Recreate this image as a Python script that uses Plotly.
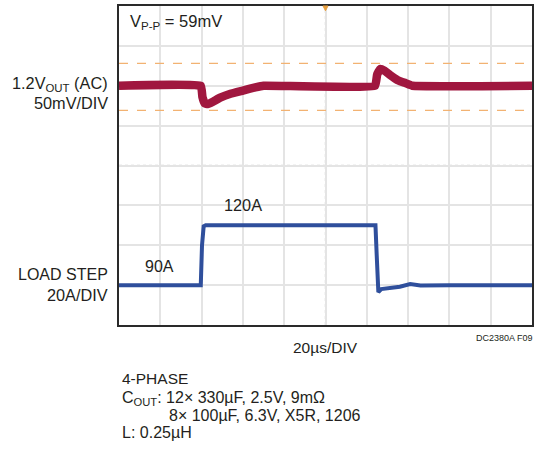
import plotly.graph_objects as go

# ---- data ----
# time axis in microseconds (20us/DIV, 10 divisions)
v_time = [0, 39.6, 40.4, 41.5, 43.0, 45.5, 49, 54, 60, 66, 70, 124.0, 125.0, 126.5, 128.5, 131, 135, 139, 142, 200]
# output voltage deviation (AC), mV
v_mv = [0, 0, -14, -22, -23, -20, -15, -10, -6, -2, 0, 0, 14, 21, 19, 14, 7, 3, 0, 0]

i_time = [0, 39.6, 40.2, 41.0, 42.0, 60, 80, 100, 124.2, 124.8, 125.6, 127, 131, 136, 141, 146, 160, 200]
# load step current, A
i_amp = [90, 90, 110, 119.5, 120, 120, 119.8, 120, 120, 105, 86.5, 88, 88.6, 89.2, 90.5, 89.8, 90, 90]

cursor_mv = [28, -31]          # Vp-p cursors (59mV)
x_ticks = [0, 20, 40, 60, 80, 100, 120, 140, 160, 180, 200]

FONT = "Liberation Sans, Arial, sans-serif"
RED = "#a0173f"
BLUE = "#2f4f9c"

fig = go.Figure()

# cursor lines
for c in cursor_mv:
    fig.add_trace(go.Scatter(x=[x_ticks[0], x_ticks[-1]], y=[c, c], yaxis="y2", mode="lines",
                             line=dict(color="#f2b272", width=1.3, dash="dash"),
                             hoverinfo="skip", showlegend=False))

fig.add_trace(go.Scatter(x=v_time, y=v_mv, yaxis="y2", mode="lines",
                         line=dict(color=RED, width=8.5, shape="spline", smoothing=0.3),
                         showlegend=False))
fig.add_trace(go.Scatter(x=i_time, y=i_amp, yaxis="y", mode="lines",
                         line=dict(color=BLUE, width=4),
                         showlegend=False))

L, R, T, B = 119, 534, 6, 325
W, H = 535, 455


def px(x):
    return (x - L) / (R - L)


def py(y):
    return (B - y) / (B - T)


ann = []


def add(text, x, y, size, xanchor="left", align="left"):
    ann.append(dict(text=text, x=px(x), y=py(y), xref="paper", yref="paper",
                    xanchor=xanchor, yanchor="middle", showarrow=False, align=align,
                    font=dict(family=FONT, size=size, color="#231f20")))


add("V<sub>P-P</sub> = 59mV", 128, 22, 16.5)
add("1.2V<sub>OUT</sub> (AC)", 110, 84, 16.3, xanchor="right")
add("50mV/DIV", 110, 103, 16.3, xanchor="right")
add("LOAD STEP", 110, 274, 16, xanchor="right")
add("20A/DIV", 110, 295, 16.3, xanchor="right")
add("90A", 143, 266, 16)
add("120A", 222, 205, 16.3)
add("20µs/DIV", 292, 347, 15.5)
add("DC2380A F09", 537, 338, 9, xanchor="right")
add("4-PHASE", 120, 378, 15.5)
add("C<sub>OUT</sub>: 12× 330µF, 2.5V, 9mΩ", 120, 398, 16)
add("8× 100µF, 6.3V, X5R, 1206", 167, 415, 16)
add("L: 0.25µH", 120, 432, 16)

shapes = [
    # center dotted cross lines
    dict(type="line", xref="x", yref="paper", x0=100, x1=100, y0=0, y1=1,
         line=dict(color="#d8d8d8", width=1.5, dash="dot"), layer="below"),
    dict(type="line", xref="paper", yref="y", x0=0, x1=1, y0=150, y1=150,
         line=dict(color="#cfcfcf", width=1.5, dash="dot"), layer="below"),
    # trigger marker
    dict(type="path", xref="x", yref="paper",
         path="M 98.8 1 L 101.2 1 L 100 0.985 Z", fillcolor="#e8a040",
         line=dict(color="#e8a040", width=1)),
]

fig.update_layout(
    width=W, height=H,
    margin=dict(l=L, r=W - R, t=T, b=H - B, pad=0),
    paper_bgcolor="white", plot_bgcolor="white",
    xaxis=dict(range=[x_ticks[0], x_ticks[-1]], tickvals=x_ticks, showticklabels=False,
               showgrid=True, gridcolor="#e4e4e4", gridwidth=1.5, zeroline=False,
               showline=True, linecolor="#2a2a2a", linewidth=2, mirror=True, ticks=""),
    yaxis=dict(range=[70, 230], dtick=20, tick0=70, showticklabels=False,
               showgrid=True, gridcolor="#e4e4e4", gridwidth=1.5, zeroline=False,
               showline=True, linecolor="#2a2a2a", linewidth=2, mirror=True, ticks=""),
    yaxis2=dict(range=[-300, 100], overlaying="y", showticklabels=False, showgrid=False,
                zeroline=False, showline=False, ticks=""),
    annotations=ann,
    shapes=shapes,
    showlegend=False,
)

fig.write_html("out.html", config={"displayModeBar": False},
               post_script="document.body.style.margin='0';document.body.style.padding='0';")
